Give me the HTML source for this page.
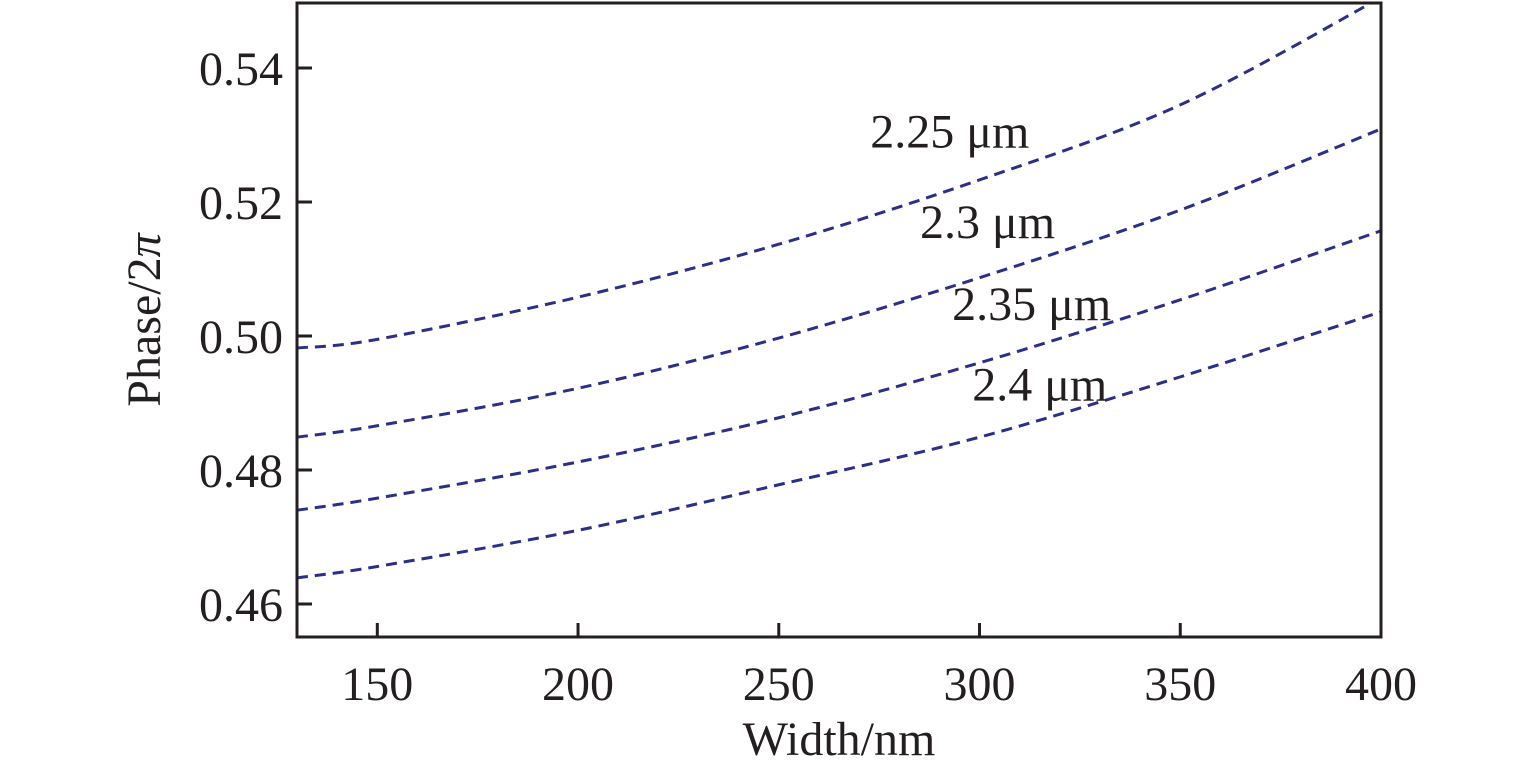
<!DOCTYPE html>
<html><head><meta charset="utf-8"><style>
html,body{margin:0;padding:0;background:#fff}
svg text{font-family:"Liberation Serif",serif;fill:#231f20}
</style></head><body>
<svg id="chart" width="1535" height="772" xmlns="http://www.w3.org/2000/svg">
<g id="marks"></g>
<rect x="297" y="3" width="1084" height="634" fill="none" stroke="#231f20" stroke-width="3"/>
<g id="axes"></g>
<text x="839" y="755" font-size="48" text-anchor="middle">Width/nm</text>
<text transform="translate(160,320) rotate(-90)" font-size="48" text-anchor="middle">Phase/2<tspan font-style="italic">π</tspan></text>
</svg>
<script>
const widths=[130,150,200,250,300,350,400];
const series225=[0.4982,0.4995,0.5058,0.5137,0.5233,0.5345,0.5505];
const series230=[0.4849,0.4866,0.4922,0.4997,0.5087,0.5188,0.5309];
const series235=[0.4740,0.4758,0.4812,0.4878,0.4960,0.5054,0.5157];
const series240=[0.4639,0.4656,0.4710,0.4778,0.4849,0.4939,0.5036];
const seriesLabels=["2.25 μm","2.3 μm","2.35 μm","2.4 μm"];
const labelPos=[[292.6,0.5281],[302,0.5146],[313,0.5024],[315,0.4904]];
const xTicks=[150,200,250,300,350,400];
const yTicks=[0.46,0.48,0.50,0.52,0.54];
const X=v=>297+(v-130)*(1084/270);
const Y=v=>68+(0.54-v)*6700;
const NS="http://www.w3.org/2000/svg";
const marks=document.getElementById('marks'),axes=document.getElementById('axes');
const cp=document.createElementNS(NS,'clipPath');cp.setAttribute('id','clip');
const cr=document.createElementNS(NS,'rect');cr.setAttribute('x',297);cr.setAttribute('y',3);cr.setAttribute('width',1084);cr.setAttribute('height',634);
cp.appendChild(cr);document.getElementById('chart').appendChild(cp);
marks.setAttribute('clip-path','url(#clip)');
function pathFor(vals){
 const p=widths.map((w,i)=>[X(w),Y(vals[i])]);
 let d=`M${p[0][0]},${p[0][1]}`;
 for(let i=0;i<p.length-1;i++){
  const p0=p[Math.max(0,i-1)],p1=p[i],p2=p[i+1],p3=p[Math.min(p.length-1,i+2)];
  const c1=[p1[0]+(p2[0]-p0[0])/6,p1[1]+(p2[1]-p0[1])/6];
  const c2=[p2[0]-(p3[0]-p1[0])/6,p2[1]-(p3[1]-p1[1])/6];
  d+=` C${c1[0]},${c1[1]} ${c2[0]},${c2[1]} ${p2[0]},${p2[1]}`;
 }
 return d;
}
[series225,series230,series235,series240].forEach((s,i)=>{
 const el=document.createElementNS(NS,'path');
 
 
 el.setAttribute('d',pathFor(s));
 el.setAttribute('fill','none');el.setAttribute('stroke','#2b2f86');
 el.setAttribute('stroke-width','3');el.setAttribute('stroke-dasharray','11 7');
 marks.appendChild(el);
 const t=document.createElementNS(NS,'text');
 
 
 t.setAttribute('x',X(labelPos[i][0]));t.setAttribute('y',Y(labelPos[i][1]));
 t.setAttribute('font-size','48');t.setAttribute('text-anchor','middle');
 t.textContent=seriesLabels[i];
 document.getElementById('chart').appendChild(t);
});
xTicks.forEach(v=>{
 const l=document.createElementNS(NS,'line');
 
 
 l.setAttribute('x1',X(v));l.setAttribute('x2',X(v));l.setAttribute('y1',637);l.setAttribute('y2',623);
 l.setAttribute('stroke','#231f20');l.setAttribute('stroke-width','3');axes.appendChild(l);
 const t=document.createElementNS(NS,'text');
 
 
 t.setAttribute('x',X(v));t.setAttribute('y',700);t.setAttribute('font-size','48');t.setAttribute('text-anchor','middle');
 t.textContent=v;axes.appendChild(t);
});
yTicks.forEach(v=>{
 const l=document.createElementNS(NS,'line');
 
 
 l.setAttribute('x1',297);l.setAttribute('x2',312);l.setAttribute('y1',Y(v));l.setAttribute('y2',Y(v));
 l.setAttribute('stroke','#231f20');l.setAttribute('stroke-width','3');axes.appendChild(l);
 const t=document.createElementNS(NS,'text');
 
 
 t.setAttribute('x',283);t.setAttribute('y',Y(v)+17);t.setAttribute('font-size','48');t.setAttribute('text-anchor','end');
 t.textContent=v.toFixed(2);axes.appendChild(t);
});
</script>
</body></html>
